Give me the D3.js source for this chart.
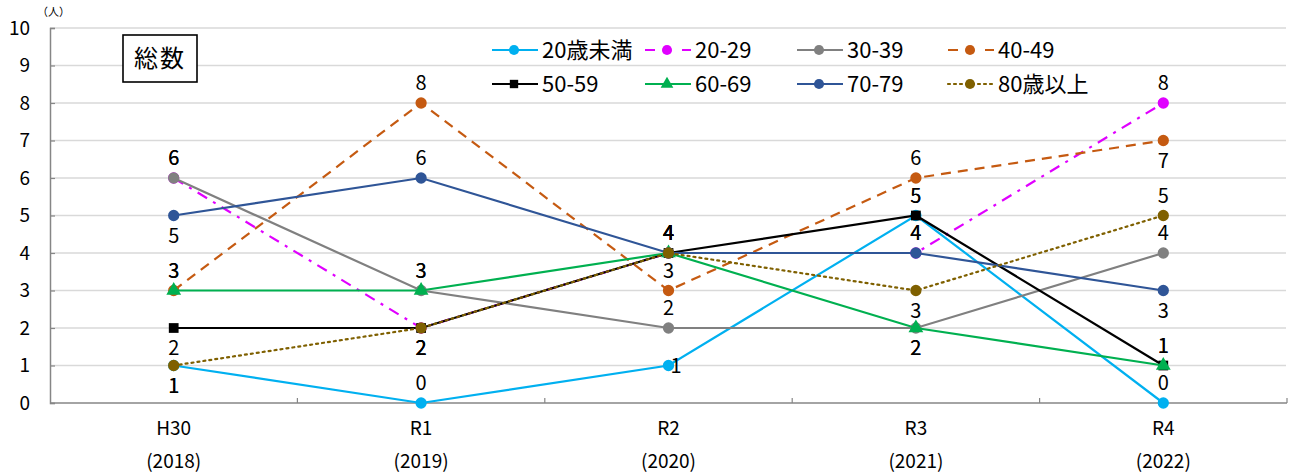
<!DOCTYPE html>
<html>
<head>
<meta charset="utf-8">
<script src="https://cdn.jsdelivr.net/npm/d3@7"></script>
<style>
  html, body { margin: 0; padding: 0; background: #fff; }
  svg { display: block; font-family: "Noto Sans CJK JP", "Noto Sans", sans-serif; }
</style>
</head>
<body>
<svg id="chart" width="1291" height="474"></svg>
<script>
// Categories (fiscal year / calendar year)
const categories = ["H30", "R1", "R2", "R3", "R4"];
const years = ["(2018)", "(2019)", "(2020)", "(2021)", "(2022)"];

// Series names and counts (persons)
const seriesNames = ["20歳未満", "20-29", "30-39", "40-49", "50-59", "60-69", "70-79", "80歳以上"];
const under20 = [1, 0, 1, 5, 0];
const age20s  = [6, 2, 4, 4, 8];
const age30s  = [6, 3, 2, 2, 4];
const age40s  = [3, 8, 3, 6, 7];
const age50s  = [2, 2, 4, 5, 1];
const age60s  = [3, 3, 4, 2, 1];
const age70s  = [5, 6, 4, 4, 3];
const over80  = [1, 2, 4, 3, 5];

// Data label placement per point: a = above, b = below, r = right
const labelPlace = [
  ["b", "a", "r", "a", "a"],
  ["a", "b", "a", "a", "a"],
  ["a", "a", "a", "b", "a"],
  ["a", "a", "a", "a", "b"],
  ["b", "b", "a", "a", "a"],
  ["a", "a", "a", "b", "a"],
  ["b", "a", "a", "a", "b"],
  ["b", "b", "a", "b", "a"]
];

const yTicks = [0, 1, 2, 3, 4, 5, 6, 7, 8, 9, 10];
const titleText = "総数";
const unitText = "（人）";

const values = [under20, age20s, age30s, age40s, age50s, age60s, age70s, over80];
const styles = [
  { color: "#00b0f0", dash: null,        legendDash: null,        marker: "circle" },
  { color: "#e000ff", dash: "11,7,3,7",  legendDash: "10,27",     marker: "circle" },
  { color: "#808080", dash: null,        legendDash: null,        marker: "circle" },
  { color: "#c55a11", dash: "10,7",      legendDash: "10,27",     marker: "circle" },
  { color: "#000000", dash: null,        legendDash: null,        marker: "square" },
  { color: "#00b050", dash: null,        legendDash: null,        marker: "triangle" },
  { color: "#2f5597", dash: null,        legendDash: null,        marker: "circle" },
  { color: "#7f6000", dash: "2,4",       legendDash: "2,4",       marker: "circle" }
];

const series = seriesNames.map((name, i) => ({
  name, values: values[i], place: labelPlace[i], ...styles[i]
}));

const svg = d3.select("#chart");
const margin = { left: 50, right: 4, top: 28, bottom: 71 };
const W = 1291, H = 474;

const x = d3.scaleBand().domain(categories)
  .range([margin.left, W - margin.right]).paddingInner(0).paddingOuter(0);
const y = d3.scaleLinear().domain([0, 10]).range([H - margin.bottom, margin.top]);
const cx = c => x(c) + x.bandwidth() / 2;

// Gridlines
svg.append("g").selectAll("line").data(yTicks.filter(d => d > 0)).join("line")
  .attr("x1", margin.left).attr("x2", W - margin.right - 1)
  .attr("y1", d => y(d)).attr("y2", d => y(d))
  .attr("stroke", "#d9d9d9").attr("stroke-width", 1.3);

// Y axis
const yAxis = svg.append("g").attr("transform", `translate(${margin.left},0)`)
  .call(d3.axisRight(y).tickValues(yTicks).tickSize(5).tickFormat(""));
yAxis.select(".domain").attr("stroke", "#868686").attr("stroke-width", 1.5);
yAxis.selectAll(".tick line").attr("stroke", "#868686").attr("stroke-width", 1.2);

svg.append("g").selectAll("text").data(yTicks).join("text")
  .attr("x", 30).attr("y", d => y(d)).attr("dy", "0.36em")
  .attr("text-anchor", "end").attr("font-size", 19).attr("fill", "#000")
  .text(d => d);

svg.append("text").attr("x", 37).attr("y", 16)
  .attr("font-size", 11).attr("fill", "#000").text(unitText);

// X axis with tick marks at category boundaries
const xAxisG = svg.append("g");
xAxisG.append("line")
  .attr("x1", margin.left).attr("x2", W - margin.right)
  .attr("y1", y(0)).attr("y2", y(0))
  .attr("stroke", "#868686").attr("stroke-width", 1.5);
const bounds = categories.map(c => x(c)).concat([x(categories[categories.length - 1]) + x.bandwidth()]);
xAxisG.selectAll("line.tk").data(bounds.slice(1)).join("line").attr("class", "tk")
  .attr("x1", d => d).attr("x2", d => d)
  .attr("y1", y(0)).attr("y2", y(0) - 5)
  .attr("stroke", "#868686").attr("stroke-width", 1.2);

svg.append("g").selectAll("text").data(categories).join("text")
  .attr("x", d => cx(d)).attr("y", 428).attr("dy", "0.36em")
  .attr("text-anchor", "middle").attr("font-size", 19).attr("fill", "#000")
  .text(d => d);
svg.append("g").selectAll("text").data(years).join("text")
  .attr("x", (d, i) => cx(categories[i])).attr("y", 461).attr("dy", "0.36em")
  .attr("text-anchor", "middle").attr("font-size", 19).attr("fill", "#000")
  .text(d => d);

// Lines
const line = d3.line().x((d, i) => cx(categories[i])).y(d => y(d));
const markerPath = (type, size) => {
  if (type === "square") return d3.symbol(d3.symbolSquare, size)();
  if (type === "triangle") return d3.symbol(d3.symbolTriangle, size)();
  return d3.symbol(d3.symbolCircle, size)();
};

const gSeries = svg.append("g");
series.forEach(s => {
  const g = gSeries.append("g");
  g.append("path").datum(s.values).attr("d", line)
    .attr("fill", "none").attr("stroke", s.color).attr("stroke-width", 2.2)
    .attr("stroke-dasharray", s.dash)
    .attr("stroke-linecap", s.dash === "2,4" ? "round" : "butt");
  g.selectAll("path.mk").data(s.values).join("path").attr("class", "mk")
    .attr("transform", (d, i) => `translate(${cx(categories[i])},${y(d)})`)
    .attr("d", markerPath(s.marker, s.marker === "circle" ? 100 : 95))
    .attr("fill", s.color);
});

// Data labels
const gLabels = svg.append("g");
series.forEach(s => {
  gLabels.selectAll(null).data(s.values).join("text")
    .attr("x", (d, i) => cx(categories[i]) + (s.place[i] === "r" ? 2 : 0))
    .attr("y", (d, i) => {
      const p = s.place[i];
      const base = y(d);
      if (p === "a") return Math.min(base - 20, y(0) - 13);
      if (p === "b") return base + 20;
      return base;
    })
    .attr("dy", "0.36em")
    .attr("text-anchor", (d, i) => s.place[i] === "r" ? "start" : "middle")
    .attr("font-size", 20).attr("fill", "#000")
    .text(d => d);
});

// Title box
const tb = svg.append("g");
tb.append("rect").attr("x", 123).attr("y", 35).attr("width", 74).attr("height", 47)
  .attr("fill", "#fff").attr("stroke", "#000").attr("stroke-width", 1.6);
tb.append("text").attr("x", 160).attr("y", 58.5).attr("dy", "0.36em")
  .attr("text-anchor", "middle").attr("font-size", 24).attr("letter-spacing", 2)
  .attr("fill", "#000")
  .text(titleText);

// Legend (4 columns x 2 rows)
const legend = svg.append("g");
const colX = [492, 645, 797, 948];
const rowY = [50, 84];
series.forEach((s, i) => {
  const lx = colX[i % 4], ly = rowY[Math.floor(i / 4)];
  const g = legend.append("g");
  g.append("line").attr("x1", lx).attr("x2", lx + 46).attr("y1", ly).attr("y2", ly)
    .attr("stroke", s.color).attr("stroke-width", 2.2)
    .attr("stroke-dasharray", s.legendDash)
    .attr("stroke-linecap", s.dash === "2,4" ? "round" : "butt");
  g.append("path").attr("transform", `translate(${lx + 22},${ly})`)
    .attr("d", markerPath(s.marker, s.marker === "circle" ? 80 : 70)).attr("fill", s.color);
  g.append("text").attr("x", lx + 50).attr("y", ly).attr("dy", "0.36em")
    .attr("font-size", 22).attr("fill", "#000").text(s.name);
});
</script>
</body>
</html>
